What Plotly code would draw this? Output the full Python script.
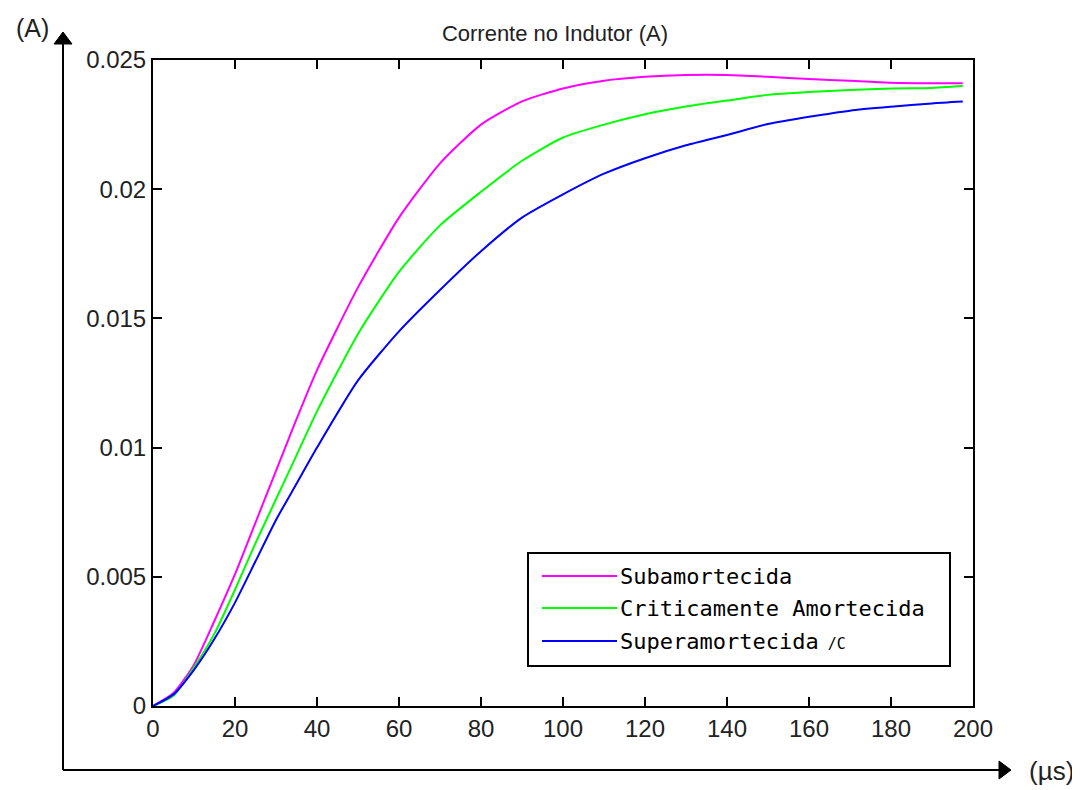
import plotly.graph_objects as go

# ---- data ----
t_us = [0, 5, 10, 15, 20, 25, 30, 35, 40, 50, 60, 70, 80, 90, 100, 110, 120,
        130, 140, 150, 160, 170, 180, 190, 197.5]
sub = [0, 0.0005, 0.0016, 0.0033, 0.0051, 0.0071, 0.0091, 0.0111, 0.0130,
       0.0162, 0.0189, 0.0210, 0.0225, 0.0234, 0.0239, 0.0242, 0.02435,
       0.02442, 0.02442, 0.02435, 0.02426, 0.0242, 0.02412, 0.0241, 0.0241]
crit = [0, 0.0004, 0.0015, 0.0028, 0.0045, 0.0063, 0.0080, 0.0097, 0.0114,
        0.0144, 0.0168, 0.0186, 0.0199, 0.0211, 0.0220, 0.0225, 0.0229,
        0.0232, 0.02343, 0.02365, 0.02376, 0.02384, 0.0239, 0.02392, 0.02399]
sup = [0, 0.00045, 0.0014, 0.0026, 0.0040, 0.0056, 0.0072, 0.0086, 0.0100,
       0.0126, 0.0145, 0.0161, 0.0176, 0.0189, 0.0198, 0.0206, 0.0212,
       0.0217, 0.0221, 0.02252, 0.0228, 0.02304, 0.02319, 0.02332, 0.02339]

series_names = ["Subamortecida", "Criticamente Amortecida", "Superamortecida"]
series_suffix = ["", "", " /C"]
series_colors = ["#FF00FF", "#00FF00", "#0000FF"]
series_values = [sub, crit, sup]

x_ticks = [0, 20, 40, 60, 80, 100, 120, 140, 160, 180, 200]
y_ticks = [0, 0.005, 0.01, 0.015, 0.02, 0.025]
y_tick_labels = ["0", "0.005", "0.01", "0.015", "0.02", "0.025"]

title_text = "Corrente no Indutor (A)"
y_unit = "(A)"
x_unit = "(\u00b5s)"

# ---- layout geometry (page pixels) ----
PAGE_W, PAGE_H = 1080, 790
OFF = 8  # default body margin of the html page
W, H = PAGE_W - OFF, PAGE_H - OFF
L, R, T, B = 153, 973, 60, 706
SANS = "Liberation Sans, Arial, sans-serif"


def px(xp):
    return (xp - L) / (R - L)


def py(yp):
    return (B - yp) / (B - T)


fig = go.Figure()
for name, vals, col in zip(series_names, series_values, series_colors):
    fig.add_trace(go.Scatter(x=t_us, y=vals, mode="lines", name=name,
                             line=dict(color=col, width=2, shape="spline", smoothing=0.6),
                             showlegend=False))

axis_common = dict(showline=True, linecolor="black", linewidth=2, mirror="ticks",
                   ticks="inside", ticklen=9, tickwidth=2, tickcolor="black",
                   showgrid=False, zeroline=False,
                   tickfont=dict(family=SANS, size=24, color="#222222"))

shapes = []
lw = 2
shapes.append(dict(type="line", xref="paper", yref="paper", x0=px(63), y0=py(770), x1=px(63), y1=py(42),
                   line=dict(color="black", width=lw)))
shapes.append(dict(type="path", xref="paper", yref="paper",
                   path=f"M {px(63)},{py(32)} L {px(54)},{py(44)} L {px(72)},{py(44)} Z",
                   fillcolor="black", line=dict(color="black", width=1)))
shapes.append(dict(type="line", xref="paper", yref="paper", x0=px(63), y0=py(770), x1=px(1000), y1=py(770),
                   line=dict(color="black", width=lw)))
shapes.append(dict(type="path", xref="paper", yref="paper",
                   path=f"M {px(1011)},{py(770)} L {px(999)},{py(761)} L {px(999)},{py(779)} Z",
                   fillcolor="black", line=dict(color="black", width=1)))

shapes.append(dict(type="rect", xref="paper", yref="paper", x0=px(528), y0=py(666), x1=px(950), y1=py(553),
                   line=dict(color="black", width=2), fillcolor="white", layer="above"))

annotations = []
leg_rows = [576, 608, 641]
for i, (name, suf, col) in enumerate(zip(series_names, series_suffix, series_colors)):
    yy = leg_rows[i]
    shapes.append(dict(type="line", xref="paper", yref="paper", x0=px(542), x1=px(617), y0=py(yy), y1=py(yy),
                       line=dict(color=col, width=2), layer="above"))
    txt = name
    if suf:
        txt += f"<span style='font-size:15px'>{suf}</span>"
    annotations.append(dict(xref="paper", yref="paper", x=px(618), y=py(yy), text=txt,
                            showarrow=False, xanchor="left", yanchor="middle",
                            font=dict(family="DejaVu Sans Mono, monospace", size=22, color="black")))

annotations.append(dict(xref="paper", yref="paper", x=px(32), y=py(28), text=y_unit, showarrow=False,
                        xanchor="center", yanchor="middle",
                        font=dict(family=SANS, size=25, color="#222222")))
annotations.append(dict(xref="paper", yref="paper", x=px(1051), y=py(771), text=x_unit, showarrow=False,
                        xanchor="center", yanchor="middle",
                        font=dict(family=SANS, size=26, color="#222222")))

fig.update_layout(
    width=W, height=H,
    margin=dict(l=L - OFF, r=PAGE_W - R, t=T - OFF, b=PAGE_H - B, pad=0),
    paper_bgcolor="white", plot_bgcolor="white",
    title=dict(text=title_text, x=px(555), xref="paper", xanchor="center",
               y=1 - (33 - OFF) / H, yanchor="middle",
               font=dict(family=SANS, size=22, color="#222222")),
    xaxis=dict(range=[0, 200], tickvals=x_ticks, ticktext=[str(v) for v in x_ticks], **axis_common),
    yaxis=dict(range=[0, 0.025], tickvals=y_ticks, ticktext=y_tick_labels, **axis_common),
    shapes=shapes, annotations=annotations, showlegend=False,
)

fig.write_html("out.html")
